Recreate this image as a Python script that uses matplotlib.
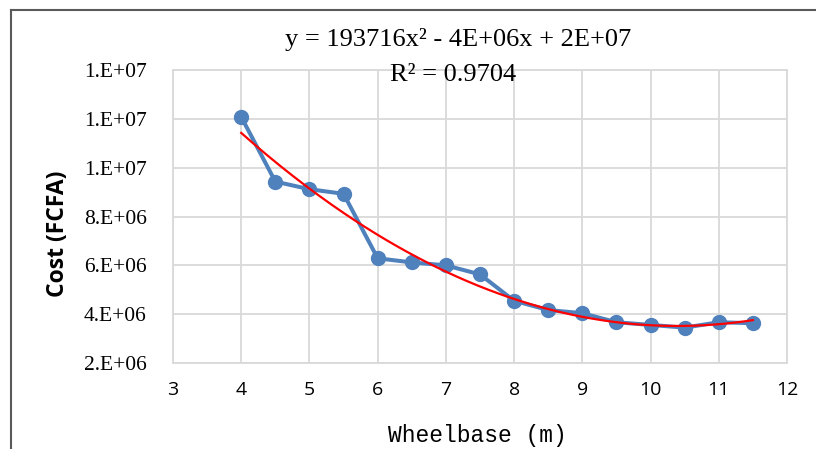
import numpy as np
from matplotlib import pyplot as plt
from matplotlib.lines import Line2D
from matplotlib.ticker import FuncFormatter

# 数据点
wheelbase = [4, 4.5, 5, 5.5, 6, 6.5, 7, 7.5, 8, 8.5, 9, 9.5, 10, 10.5, 11, 11.5]
cost = [12.08e6, 9.43e6, 9.12e6, 8.93e6, 6.29e6, 6.12e6, 6.0e6, 5.63e6,
        4.55e6, 4.17e6, 4.04e6, 3.67e6, 3.56e6, 3.45e6, 3.67e6, 3.63e6]
y_ticks = [2e6, 4e6, 6e6, 8e6, 10e6, 12e6, 14e6]
x_ticks = [3, 4, 5, 6, 7, 8, 9, 10, 11, 12]

blue = '#4F81BD'
grid_c = '#D9D9D9'

fig = plt.figure(figsize=(8.16, 4.49), dpi=100)
ax = fig.add_axes([0.212, 0.1915, 0.7525, 0.6525])

# 折线 + 点
ax.plot(wheelbase, cost, color=blue, lw=2.9, marker='o', ms=10, zorder=3)

# 二次趋势线
coef = np.polyfit(wheelbase, cost, 2)
xs = np.linspace(min(wheelbase), max(wheelbase), 200)
ax.plot(xs, np.polyval(coef, xs), color='#FF0000', lw=1.6, zorder=4)

ax.set_xlim(3, 12)
ax.set_ylim(2e6, 14e6)
ax.set_xticks(x_ticks)
ax.set_yticks(y_ticks)
ax.yaxis.set_major_formatter(FuncFormatter(lambda v, p: '{:#.0E}'.format(v)))
ax.grid(color=grid_c, lw=1.3)
ax.set_axisbelow(True)
for s in ax.spines.values():
    s.set_color(grid_c)
    s.set_linewidth(1.3)

ax.tick_params(length=0)
ax.tick_params(axis='y', pad=19)
ax.tick_params(axis='x', pad=13)
for t in ax.get_yticklabels():
    t.set_fontfamily('Liberation Serif')
    t.set_fontsize(15.5)
for t in ax.get_xticklabels():
    t.set_fontfamily('Open Sans')
    t.set_fontsize(14)

# 轴标签
fig.text(0.071, 0.479, 'Cost (FCFA)', rotation=90, ha='center', va='center',
         fontsize=16.5, fontweight='bold', family='Open Sans')
fig.text(0.585, 0.031, 'Wheelbase (m)', ha='center', va='center',
         fontsize=16.5, family='Liberation Mono')

# 趋势线公式
fig.text(0.561, 0.911, 'y = 193716x² - 4E+06x + 2E+07', ha='center', va='center',
         fontsize=19, family='Liberation Serif')
fig.text(0.555, 0.833, 'R² = 0.9704', ha='center', va='center',
         fontsize=19, family='Liberation Serif')

# 外框 (只露出上边和左边)
fig.add_artist(Line2D([11 / 816, 11 / 816], [0, 1 - 10 / 449], transform=fig.transFigure,
                      color='#595959', lw=1.5))
fig.add_artist(Line2D([11 / 816, 1], [1 - 10 / 449, 1 - 10 / 449], transform=fig.transFigure,
                      color='#595959', lw=1.5))

fig.savefig('out.png', dpi=100)
